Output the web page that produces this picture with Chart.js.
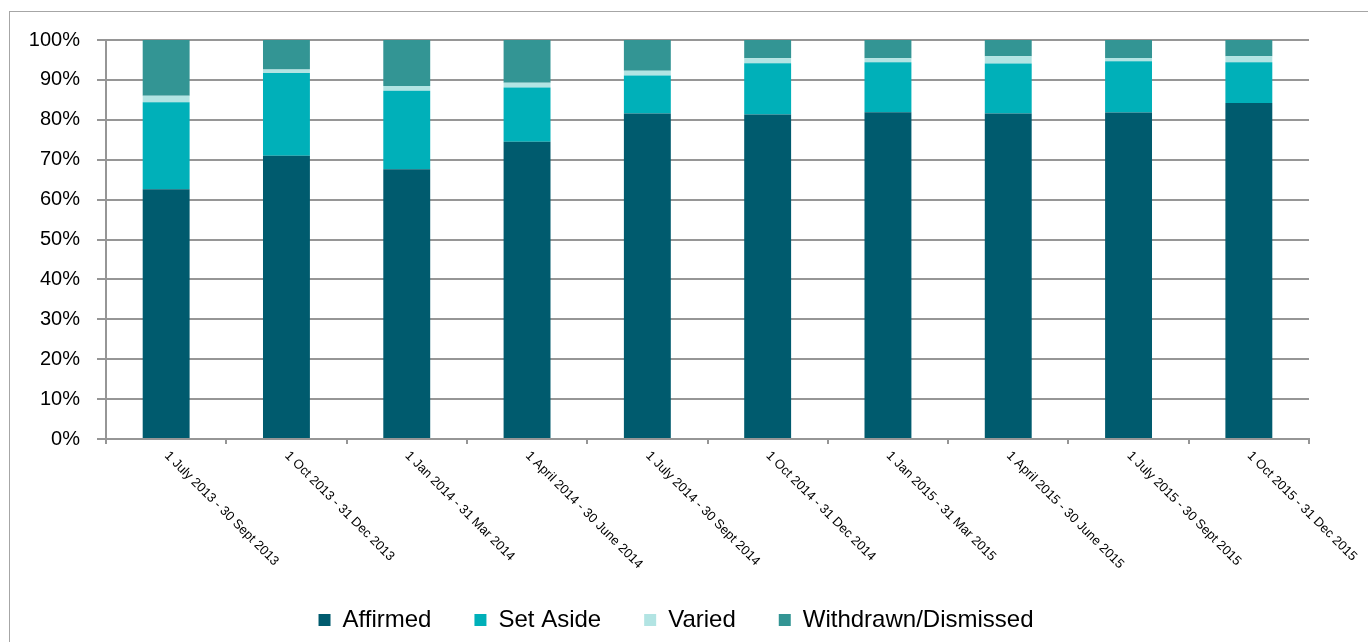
<!DOCTYPE html>
<html>
<head>
<meta charset="utf-8">
<script src="https://cdn.jsdelivr.net/npm/chart.js@4"></script>
<style>
  html, body { margin: 0; padding: 0; background: #fff; }
  #wrap { width: 1368px; height: 642px; }
</style>
</head>
<body>
<div id="wrap"><canvas id="chart" width="1368" height="642"></canvas></div>
<script>
const categories = [
  "1 July 2013 - 30 Sept 2013",
  "1 Oct 2013 - 31 Dec 2013",
  "1 Jan 2014 - 31 Mar 2014",
  "1 April 2014 - 30 June 2014",
  "1 July 2014 - 30 Sept 2014",
  "1 Oct 2014 - 31 Dec 2014",
  "1 Jan 2015 - 31 Mar 2015",
  "1 April 2015 - 30 June 2015",
  "1 July 2015 - 30 Sept 2015",
  "1 Oct 2015 - 31 Dec 2015",
];
const affirmed  = [62.6, 71.0, 67.6, 74.5, 81.6, 81.3, 81.9, 81.6, 81.8, 84.2];
const setAside  = [21.8, 20.7, 19.7, 13.6, 9.5, 12.9, 12.5, 12.5, 12.9, 10.2];
const varied    = [1.6, 0.9, 1.2, 1.2, 1.2, 1.2, 1.0, 1.8, 0.8, 1.5];
const withdrawn = [14.0, 7.4, 11.5, 10.7, 7.7, 4.6, 4.6, 4.1, 4.5, 4.1];
const yTicks = [0, 10, 20, 30, 40, 50, 60, 70, 80, 90, 100];

const FONT = '"Liberation Sans", Arial, sans-serif';
const gridGrey = "#969696";

// outer frame of the original chart object
const framePlugin = {
  id: "frame",
  beforeDraw(chart) {
    const ctx = chart.ctx;
    ctx.save();
    ctx.strokeStyle = "#a6a6a6";
    ctx.lineWidth = 1;
    ctx.strokeRect(9.5, 11.5, chart.width + 20, chart.height + 20);
    ctx.restore();
  },
};

// category labels rotated downwards to the right, starting at each tick
const xLabelPlugin = {
  id: "xLabels",
  afterDraw(chart) {
    const xs = chart.scales.x;
    const ctx = chart.ctx;
    ctx.save();
    ctx.fillStyle = "#000";
    ctx.font = "13px " + FONT;
    ctx.textAlign = "left";
    ctx.textBaseline = "top";
    categories.forEach((label, i) => {
      const x = xs.getPixelForValue(i);
      ctx.save();
      ctx.translate(x + 5, xs.top + 10);
      ctx.rotate(Math.PI / 4);
      ctx.fillText(label, 0, 0);
      ctx.restore();
    });
    ctx.restore();
  },
};

const makeSet = (label, data, color) => ({
  label,
  data,
  backgroundColor: color,
  borderWidth: 0,
  barPercentage: 0.39,
  categoryPercentage: 1,
});

new Chart(document.getElementById("chart"), {
  type: "bar",
  data: {
    labels: categories,
    datasets: [
      makeSet("Affirmed", affirmed, "#005b6e"),
      makeSet("Set Aside", setAside, "#00b0b9"),
      makeSet("Varied", varied, "#b2e4e3"),
      makeSet("Withdrawn/Dismissed", withdrawn, "#339594"),
    ],
  },
  options: {
    responsive: false,
    animation: false,
    layout: { padding: { top: 40, left: 10, right: 26, bottom: 0 } },
    plugins: {
      tooltip: { enabled: false },
      legend: {
        position: "bottom",
        maxHeight: 79,
        labels: {
          boxWidth: 12,
          boxHeight: 12,
          padding: 43,
          color: "#000",
          font: { family: FONT, size: 24 },
        },
      },
    },
    scales: {
      x: {
        stacked: true,
        offset: true,
        grid: {
          offset: true,
          drawOnChartArea: false,
          drawTicks: true,
          tickLength: 5,
          color: gridGrey,
          lineWidth: 2,
        },
        border: { color: gridGrey, width: 2 },
        ticks: { display: false },
        afterFit(s) { s.height = 126; },
      },
      y: {
        stacked: true,
        min: 0,
        max: 100,
        afterBuildTicks(s) { s.ticks = yTicks.map(v => ({ value: v })); },
        ticks: {
          padding: 17,
          color: "#000",
          font: { family: FONT, size: 20 },
          callback: v => v + "%",
        },
        grid: { color: gridGrey, lineWidth: 2, tickLength: 9 },
        border: { color: gridGrey, width: 2 },
        afterFit(s) { s.width = 96; },
      },
      yr: {
        type: "linear",
        position: "right",
        display: true,
        ticks: { display: false },
        grid: { display: false },
        border: { display: false },
        afterFit(s) { s.width = 33; },
      },
    },
  },
  plugins: [framePlugin, xLabelPlugin],
});
</script>
</body>
</html>
